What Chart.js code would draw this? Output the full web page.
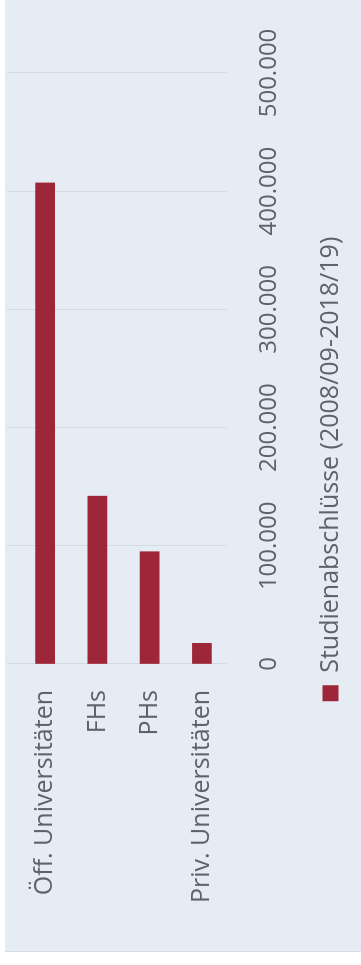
<!DOCTYPE html>
<html>
<head>
<meta charset="utf-8">
<script src="https://cdn.jsdelivr.net/npm/chart.js@4"></script>
<style>
  html, body { margin: 0; padding: 0; background: #fff; overflow: hidden; }
  /* chart is drawn landscape and turned on its side like the reference */
  #frame {
    position: absolute; left: 0; top: 0;
    width: 965px; height: 361px;
    transform-origin: 0 0;
    transform: translate(0, 965px) rotate(-90deg);
    background: #fff;
  }
  #panel {
    position: absolute; left: 13px; top: 5px; right: 0; bottom: 0;
    background: #e5ecf3;
    border-left: 1px solid #d6dce4;
  }
  #chart { position: absolute; left: 13px; top: -12px; }
</style>
</head>
<body>
<div id="frame">
  <div id="panel"></div>
  <canvas id="chart" width="952" height="373"></canvas>
</div>
<script>
const categories = ['Öff. Universitäten', 'FHs', 'PHs', 'Priv. Universitäten'];
const abschluesse = [407000, 142000, 95000, 17500];
const seriesLabel = 'Studienabschlüsse (2008/09-2018/19)';
const valueTicks = [0, 100000, 200000, 300000, 400000, 500000];

const textColor = '#5e636b';
const barColor = '#9d2638';

Chart.defaults.font.family = "'Open Sans', sans-serif";
Chart.defaults.font.size = 24;
Chart.defaults.color = textColor;

// german thousands separator
function fmt(v) {
  return String(v).replace(/\B(?=(\d{3})+(?!\d))/g, '.');
}

new Chart(document.getElementById('chart'), {
  type: 'bar',
  data: {
    datasets: [{
      label: seriesLabel,
      data: abschluesse.map((v, i) => ({ x: v, y: i })),
      backgroundColor: barColor,
      borderWidth: 0,
      barThickness: 19
    }]
  },
  options: {
    indexAxis: 'y',
    responsive: false,
    animation: false,
    layout: { padding: { top: 19, left: 14, right: 0, bottom: 8 } },
    plugins: {
      tooltip: { enabled: false },
      legend: {
        position: 'bottom',
        align: 'center',
        labels: { boxWidth: 16, boxHeight: 16, padding: 10, color: textColor, font: { size: 25 } }
      }
    },
    scales: {
      x: {
        type: 'linear',
        min: valueTicks[0],
        max: valueTicks[valueTicks.length - 1],
        afterBuildTicks: s => { s.ticks = valueTicks.map(v => ({ value: v })); },
        afterFit: s => { s.height = 81; },
        ticks: { padding: 28, maxRotation: 0, callback: v => fmt(v) },
        grid: { color: '#d3dae2', lineWidth: 1, drawTicks: false },
        border: { display: false }
      },
      y: {
        type: 'linear',
        offset: false,
        reverse: true,
        min: -0.73,
        max: 3.48,
        afterFit: s => { s.width = 274; },
        ticks: {
          stepSize: 1,
          includeBounds: false,
          padding: 2,
          autoSkip: false,
          font: { size: 25 },
          callback: v => categories[v] || ''
        },
        grid: { display: false, drawTicks: true, tickLength: 24 },
        border: { display: false }
      },
      // empty right axis only keeps room for the last tick label
      yRight: {
        type: 'linear',
        position: 'right',
        ticks: { display: false },
        grid: { display: false, drawTicks: false },
        border: { display: false },
        afterFit: s => { s.width = 73; }
      }
    }
  }
});
</script>
</body>
</html>
